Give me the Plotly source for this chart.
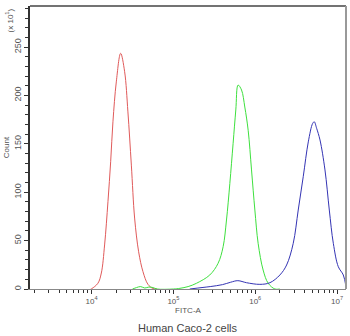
import plotly.graph_objects as go

# log10(FITC-A) positions and counts (count axis in units of 10^1)
red_log = [3.99, 4.004, 4.077, 4.119, 4.159, 4.20, 4.233, 4.261, 4.302, 4.355, 4.404, 4.444, 4.486, 4.526, 4.575, 4.628, 4.689, 4.75, 4.80]
red_cnt = [0, 0.5, 5.9, 16.5, 45.5, 90.2, 131.5, 172.8, 214, 243.5, 224.5, 183, 128, 73.3, 38.5, 17.9, 4.8, 0.5, 0]

green_log = [4.50, 4.55, 4.60, 4.65, 4.70, 4.75, 4.80, 5.0, 5.08, 5.18, 5.282, 5.445, 5.546, 5.608, 5.649, 5.690, 5.730, 5.763, 5.791, 5.833, 5.873, 5.914, 5.955, 5.996, 6.036, 6.097, 6.159, 6.241, 6.30]
green_cnt = [0, 1.5, 2.5, 1.0, 2.0, 1.5, 0, 0, 0.7, 2.5, 5.9, 14.5, 26.5, 43.7, 71.3, 109, 150.5, 185, 210.7, 205.6, 188, 164, 123, 81.6, 47.2, 19.6, 5.9, 0, 0]

blue_log = [5.20, 5.35, 5.45, 5.60, 5.70, 5.788, 5.894, 6.057, 6.18, 6.302, 6.384, 6.465, 6.526, 6.587, 6.649, 6.702, 6.722, 6.751, 6.792, 6.853, 6.906, 6.955, 7.016, 7.077, 7.11]
blue_cnt = [0, 1.5, 2.5, 4.5, 7, 8.6, 6.5, 4.8, 6.5, 14.5, 24.8, 47.2, 81.6, 116, 152, 171, 172.8, 166, 154, 123, 81.6, 47.2, 23, 14.5, 2.4]

x_tick_exp = [4, 5, 6, 7]
y_ticks = [0, 50, 100, 150, 200, 250]

fig = go.Figure()
for lg, cnt, col in [(red_log, red_cnt, "#e05a5a"),
                     (green_log, green_cnt, "#3ee03e"),
                     (blue_log, blue_cnt, "#3434b4")]:
    fig.add_trace(go.Scatter(x=[10 ** v for v in lg], y=cnt, mode="lines",
                             line=dict(color=col, width=1), line_shape="spline",
                             hoverinfo="skip", showlegend=False, cliponaxis=True))

minor_x = [m * 10 ** e for e in range(3, 8) for m in range(2, 10)]

fig.update_layout(
    width=350, height=336,
    margin=dict(l=30, r=4, t=6, b=47),
    plot_bgcolor="white", paper_bgcolor="white",
    font=dict(family="Liberation Sans, Arial, sans-serif", color="#555555", size=8),
    xaxis=dict(
        type="log", range=[3.247, 7.11],
        tickmode="array", tickvals=[10 ** e for e in x_tick_exp],
        ticktext=["10<sup>%d</sup>" % e for e in x_tick_exp],
        ticks="outside", ticklen=4, tickcolor="#333333", tickwidth=1,
        minor=dict(tickmode="array", tickvals=minor_x, ticks="outside", ticklen=3,
                   tickcolor="#333333", tickwidth=1),
        showline=True, linecolor="#888888", linewidth=1,
        showgrid=False, zeroline=False,
        title=dict(text="FITC-A", font=dict(size=8, color="#555555"), standoff=1),
        tickfont=dict(size=8, color="#555555"),
    ),
    yaxis=dict(
        range=[0, 292.4],
        tickmode="array", tickvals=y_ticks,
        ticks="outside", ticklen=4, tickcolor="#333333", tickwidth=1,
        minor=dict(dtick=10, ticks="outside", ticklen=3, tickcolor="#333333", tickwidth=1),
        tickangle=-90,
        showline=True, linecolor="#333333", linewidth=1.5,
        showgrid=False, zeroline=False,
        title=dict(text="Count", font=dict(size=8, color="#555555"), standoff=2),
        tickfont=dict(size=9, color="#555555"),
    ),
)

# top and right frame
fig.add_shape(type="line", xref="paper", yref="paper", x0=0, x1=1, y0=1, y1=1,
              line=dict(color="#444444", width=1.5))
fig.add_shape(type="line", xref="paper", yref="paper", x0=1, x1=1, y0=0, y1=1,
              line=dict(color="#999999", width=2))

fig.add_annotation(text="(x 10<sup>1</sup>)", xref="paper", yref="paper",
                   x=-0.065, y=1.0, xanchor="center", yanchor="top", textangle=-90,
                   showarrow=False, font=dict(size=8, color="#555555"))
fig.add_annotation(text="Human Caco-2 cells", xref="paper", yref="paper",
                   x=0.5, y=-0.139, xanchor="center", yanchor="middle",
                   showarrow=False, font=dict(size=11, color="#444444"))

fig.write_html("out.html")
